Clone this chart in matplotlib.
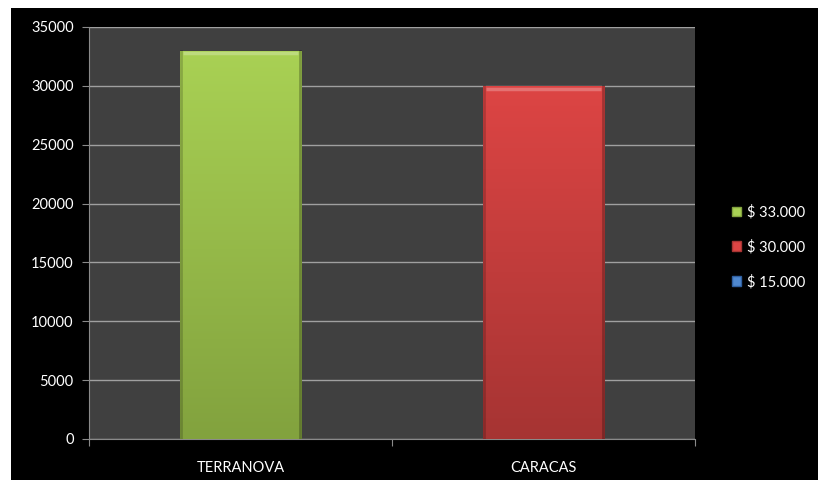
import numpy as np
import matplotlib.pyplot as plt
from matplotlib.patches import Patch
from matplotlib.colors import LinearSegmentedColormap

plt.rcParams['font.family'] = ['Lato', 'DejaVu Sans']

categories = ["TERRANOVA", "CARACAS"]
series_names = ["$ 33.000", "$ 30.000", "$ 15.000"]
series_values = [
    [33000, 0],
    [0, 30000],
    [0, 0],
]
y_ticks = [0, 5000, 10000, 15000, 20000, 25000, 30000, 35000]

# top colour, bottom colour for each series
grad_colors = [
    ("#a9d154", "#82a23e"),
    ("#dd4544", "#a63433"),
    ("#4f88cf", "#2f5f9f"),
]

fig = plt.figure(figsize=(8.18, 4.8), dpi=100)
fig.patch.set_facecolor("white")
# black chart area, white band on top and left
fig.patches.append(plt.Rectangle((11 / 818, 0), 1, 1 - 8 / 480, transform=fig.transFigure,
                                 facecolor="black", edgecolor="none", zorder=-10))

ax = fig.add_axes([89 / 818, 1 - 439 / 480, (695 - 89) / 818, (439 - 27) / 480])
ax.set_facecolor("#404040")

x = np.arange(len(categories))
width = 0.4
bottom = np.zeros(len(categories))
for name, vals, (c_top, c_bot) in zip(series_names, series_values, grad_colors):
    bars = ax.bar(x, vals, width, bottom=bottom, color=c_top, edgecolor="none", zorder=2)
    cmap = LinearSegmentedColormap.from_list(name, [c_bot, c_top])
    for b in bars:
        h = b.get_height()
        if h <= 0:
            continue
        x0, y0, w = b.get_x(), b.get_y(), b.get_width()
        grad = np.linspace(0, 1, 256).reshape(-1, 1)
        im = ax.imshow(grad, cmap=cmap, origin="lower", aspect="auto",
                       extent=(x0, x0 + w, y0, y0 + h), zorder=3)
        im.set_clip_path(b)
        # bevel: light top edge, dark sides
        ax.plot([x0 + 0.01, x0 + w - 0.01], [y0 + h - 250, y0 + h - 250],
                color="white", alpha=0.25, lw=2.5, zorder=4, solid_capstyle="butt")
        ax.plot([x0 + 0.004, x0 + 0.004], [y0, y0 + h], color="black", alpha=0.18, lw=2, zorder=4)
        ax.plot([x0 + w - 0.004, x0 + w - 0.004], [y0, y0 + h], color="black", alpha=0.25, lw=2, zorder=4)
    bottom += np.array(vals)

ax.set_xlim(-0.5, len(categories) - 0.5)
ax.set_ylim(0, 35000)
ax.set_yticks(y_ticks)
ax.set_yticklabels([str(v) for v in y_ticks])
ax.yaxis.grid(True, color="#a0a0a0", lw=1)
ax.set_axisbelow(True)

ax.set_xticks(np.arange(-0.5, len(categories)), labels=[])
ax.set_xticks(x, labels=categories, minor=True)
ax.tick_params(axis="x", which="major", length=5, color="#8a8a8a", direction="out")
ax.tick_params(axis="x", which="minor", length=0, pad=16)
ax.tick_params(axis="y", length=5, color="#8a8a8a", pad=6)
ax.tick_params(colors="white", labelsize=10.5, which="both")
ax.tick_params(axis="x", which="both", colors="#8a8a8a", labelcolor="white")
ax.tick_params(axis="y", colors="#8a8a8a", labelcolor="white")

for s in ["top", "right"]:
    ax.spines[s].set_visible(False)
for s in ["left", "bottom"]:
    ax.spines[s].set_color("#8a8a8a")

handles = [Patch(facecolor=c_top, edgecolor=c_bot) for c_top, c_bot in grad_colors]
leg = fig.legend(handles, series_names, loc="center left", bbox_to_anchor=(725 / 818, 1 - 247 / 480),
                 frameon=False, fontsize=10.5, labelcolor="white", handlelength=0.6, handleheight=0.6,
                 handletextpad=0.4, labelspacing=1.4, borderpad=0)

fig.savefig("out.png", dpi=100, facecolor=fig.get_facecolor())
